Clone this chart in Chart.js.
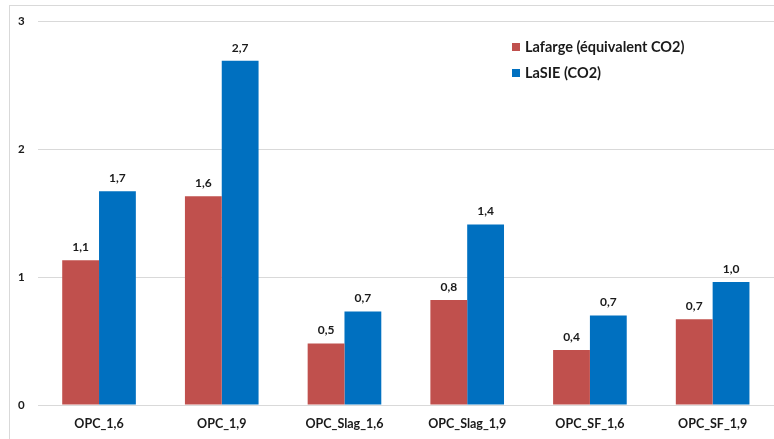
<!DOCTYPE html>
<html lang="fr">
<head>
  <meta charset="UTF-8">
  <title>Lafarge vs LaSIE</title>
  <script src="https://cdn.jsdelivr.net/npm/chart.js"></script>
  <style>
    html, body { margin: 0; padding: 0; background: #fff; }
    #wrap { position: relative; width: 774px; height: 439px; }
    #frame {
      position: absolute; left: 9px; top: 5px; right: 0; bottom: 0;
      border-left: 1px solid #d9d9d9; border-top: 1px solid #d9d9d9;
      pointer-events: none;
    }
  </style>
</head>
<body>
  <div id="wrap">
    <canvas id="myChart" width="774" height="439"></canvas>
    <div id="frame"></div>
  </div>

  <script>
    // categories et valeurs
    const categories = ['OPC_1,6', 'OPC_1,9', 'OPC_Slag_1,6', 'OPC_Slag_1,9', 'OPC_SF_1,6', 'OPC_SF_1,9'];
    const lafarge = [1.13, 1.63, 0.48, 0.82, 0.43, 0.67];
    const lasie = [1.67, 2.69, 0.73, 1.41, 0.70, 0.96];
    const seriesNames = ['Lafarge (équivalent CO2)', 'LaSIE (CO2)'];
    const yTicks = [0, 1, 2, 3];

    const FONT = 'Lato, "Open Sans", sans-serif';
    const TEXT = '#1a1a1a';
    const fmt = v => v.toFixed(1).replace('.', ',');

    // étiquettes au-dessus des barres
    const valueLabels = {
      id: 'valueLabels',
      afterDatasetsDraw(chart) {
        const ctx = chart.ctx;
        ctx.save();
        ctx.font = 'bold 12px ' + FONT;
        ctx.fillStyle = TEXT;
        ctx.textAlign = 'center';
        ctx.textBaseline = 'bottom';
        chart.data.datasets.forEach((ds, i) => {
          chart.getDatasetMeta(i).data.forEach((bar, j) => {
            ctx.fillText(fmt(ds.data[j]), bar.x, bar.y - 7);
          });
        });
        ctx.restore();
      }
    };

    // légende dans le coin haut droit
    const cornerLegend = {
      id: 'cornerLegend',
      afterDraw(chart) {
        const ctx = chart.ctx;
        ctx.save();
        ctx.font = 'bold 14.5px ' + FONT;
        ctx.textBaseline = 'middle';
        chart.data.datasets.forEach((ds, i) => {
          const y = 47 + i * 26;
          ctx.fillStyle = ds.backgroundColor;
          ctx.fillRect(512, y - 4, 8, 8);
          ctx.fillStyle = TEXT;
          ctx.fillText(ds.label, 525, y);
        });
        ctx.restore();
      }
    };

    const ctx = document.getElementById('myChart').getContext('2d');
    new Chart(ctx, {
      type: 'bar',
      data: {
        labels: categories,
        datasets: [
          { label: seriesNames[0], data: lafarge, backgroundColor: '#C0504D' },
          { label: seriesNames[1], data: lasie, backgroundColor: '#0070C0' }
        ]
      },
      options: {
        responsive: false,
        animation: false,
        layout: { padding: { left: 5, top: 21, right: 0, bottom: 0 } },
        datasets: { bar: { barPercentage: 1, categoryPercentage: 0.6 } },
        plugins: { legend: { display: false }, tooltip: { enabled: false } },
        scales: {
          x: {
            grid: { display: false },
            border: { display: false },
            ticks: { color: TEXT, font: { family: FONT, weight: 'bold', size: 12.5 }, padding: 3 },
            afterFit: s => { s.height = 34; }
          },
          y: {
            min: 0,
            max: 3,
            afterBuildTicks: s => { s.ticks = yTicks.map(v => ({ value: v })); },
            grid: { color: '#d9d9d9', drawTicks: false },
            border: { display: false },
            ticks: { color: TEXT, font: { family: FONT, weight: 'bold', size: 11.5 }, padding: 13 }
          }
        }
      },
      plugins: [valueLabels, cornerLegend]
    });
  </script>
</body>
</html>
